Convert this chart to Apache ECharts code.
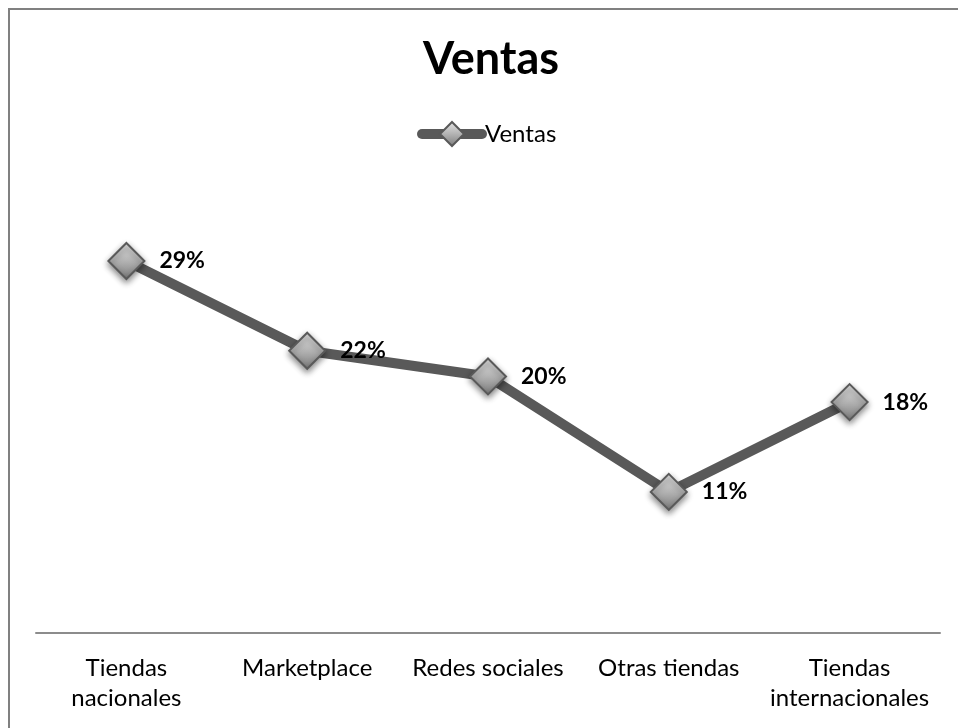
<!DOCTYPE html>
<html>
<head>
<meta charset="utf-8">
<script src="https://cdn.jsdelivr.net/npm/echarts@6/dist/echarts.min.js"></script>
<style>
  html, body { margin: 0; padding: 0; background: #fff; }
  #chart { width: 958px; height: 728px; }
</style>
</head>
<body>
<div id="chart"></div>
<script>
// categories and values
const categories = ["Tiendas\nnacionales", "Marketplace", "Redes sociales", "Otras tiendas", "Tiendas\ninternacionales"];
const ventas = [0.29, 0.22, 0.20, 0.11, 0.18];

const font = "Lato, 'Open Sans', sans-serif";
const myChart = echarts.init(document.getElementById("chart"));

const option = {
  animation: false,
  backgroundColor: "#fff",
  graphic: [
    {
      type: "rect",
      shape: { x: 9, y: 9, width: 1000, height: 1000 },
      style: { fill: "none", stroke: "#808080", lineWidth: 2 },
      silent: true
    }
  ],
  title: {
    text: "Ventas",
    left: 418,
    top: 32,
    textStyle: {
      fontFamily: font,
      fontSize: 45,
      fontWeight: "bold",
      color: "#000"
    }
  },
  legend: {
    data: ["Ventas"],
    left: 412,
    top: 116,
    itemWidth: 60,
    itemHeight: 30,
    lineStyle: { color: "#595959", width: 10, cap: "round" },
    textStyle: { fontFamily: font, fontSize: 24, color: "#000", padding: [0, 0, 0, -2] }
  },
  grid: {
    left: 36,
    right: 18,
    top: 184,
    bottom: 95
  },
  xAxis: {
    type: "category",
    data: categories,
    axisLine: { show: true, lineStyle: { color: "#8c8c8c", width: 2 } },
    axisTick: { show: false },
    axisLabel: {
      fontFamily: font,
      fontSize: 24,
      color: "#000",
      margin: 20,
      lineHeight: 30,
      interval: 0
    }
  },
  yAxis: {
    type: "value",
    min: 0,
    max: 0.35,
    show: false
  },
  series: [
    {
      name: "Ventas",
      type: "line",
      data: ventas,
      symbol: "diamond",
      symbolSize: 36,
      lineStyle: { color: "#595959", width: 10 },
      itemStyle: {
        color: new echarts.graphic.LinearGradient(0, 0, 0, 1, [
          { offset: 0, color: "#e6e6e6" },
          { offset: 0.5, color: "#b3b3b3" },
          { offset: 1, color: "#7a7a7a" }
        ]),
        borderColor: "#595959",
        borderWidth: 2,
        shadowBlur: 6,
        shadowColor: "rgba(0,0,0,0.45)",
        shadowOffsetY: 3
      },
      label: {
        show: true,
        position: "right",
        distance: 14,
        fontFamily: font,
        fontSize: 23,
        fontWeight: "bold",
        color: "#000",
        formatter: (p) => Math.round(p.value * 100) + "%"
      }
    }
  ]
};

myChart.setOption(option);
</script>
</body>
</html>
